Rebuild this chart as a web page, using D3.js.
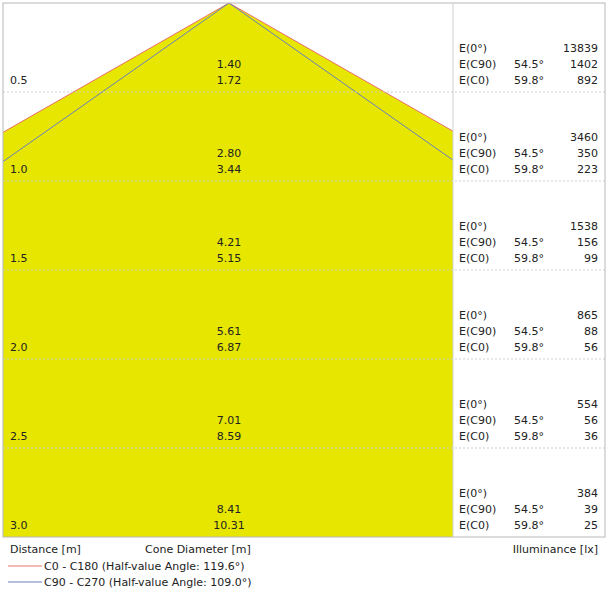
<!DOCTYPE html>
<html><head><meta charset="utf-8">
<script src="https://cdn.jsdelivr.net/npm/d3@7"></script>
<style>body{margin:0;background:#fff}</style>
</head><body><div id="chart"></div>
<script>
// Chart data
const distances = [0.5, 1.0, 1.5, 2.0, 2.5, 3.0];
const diamC90 = [1.40, 2.80, 4.21, 5.61, 7.01, 8.41];
const diamC0 = [1.72, 3.44, 5.15, 6.87, 8.59, 10.31];
const illumCenter = [13839, 3460, 1538, 865, 554, 384];
const illumC90 = [1402, 350, 156, 88, 56, 39];
const illumC0 = [892, 223, 99, 56, 36, 25];
const angleC90 = "54.5°", angleC0 = "59.8°";
const legendLabels = ["C0 - C180 (Half-value Angle: 119.6°)", "C90 - C270 (Half-value Angle: 109.0°)"];

const W = 608, H = 608;
const plotLeft = 3, plotRight = 605, plotTop = 3, plotBottom = 537, split = 453, cx = 229;
const font = "DejaVu Sans";

const svg = d3.select("#chart").append("svg").attr("width", W).attr("height", H)
    .style("font-family", font).style("font-size", "11px").attr("fill", "#222");

// Scales
const y = d3.scaleLinear().domain([0, 3]).range([plotTop, plotBottom]);
const x = d3.scaleLinear().domain([-1, 1]).range([cx - 181, cx + 181]); // metres from axis

svg.append("clipPath").attr("id", "clip").append("rect")
    .attr("x", plotLeft).attr("y", plotTop).attr("width", split - plotLeft).attr("height", plotBottom - plotTop);

const g = svg.append("g").attr("clip-path", "url(#clip)");

// Cone edges (half diameter at the last distance)
const cone = diam => [[-diam[5] / 2, 3], [0, 0], [diam[5] / 2, 3]];
const line = d3.line().x(d => x(d[0])).y(d => y(d[1]));

g.append("path").attr("d", line(cone(diamC0)) + "Z").attr("fill", "#e6e600");
g.append("path").attr("d", line(cone(diamC0))).attr("fill", "none").attr("stroke", "#e8706a").attr("stroke-width", 1);
g.append("path").attr("d", line(cone(diamC90))).attr("fill", "none").attr("stroke", "#6a7fc0").attr("stroke-width", 1);

// Row separators
svg.selectAll(".sep").data(distances.slice(0, -1)).enter().append("line")
    .attr("x1", plotLeft).attr("x2", plotRight).attr("y1", d => y(d)).attr("y2", d => y(d))
    .attr("stroke", "#cfcfcf").attr("stroke-dasharray", "2,2");

// Frame
svg.append("rect").attr("x", plotLeft).attr("y", plotTop).attr("width", plotRight - plotLeft).attr("height", plotBottom - plotTop)
    .attr("fill", "none").attr("stroke", "#b8b8b8");
svg.append("line").attr("x1", split).attr("x2", split).attr("y1", plotTop).attr("y2", plotBottom).attr("stroke", "#d0d0d0");

// Row texts
distances.forEach((d, i) => {
    const yb = y(d);
    svg.append("text").attr("x", 10).attr("y", yb - 8).text(d.toFixed(1));
    svg.append("text").attr("x", cx).attr("y", yb - 24).attr("text-anchor", "middle").text(diamC90[i].toFixed(2));
    svg.append("text").attr("x", cx).attr("y", yb - 8).attr("text-anchor", "middle").text(diamC0[i].toFixed(2));
    const rows = [["E(0°)", "", illumCenter[i]], ["E(C90)", angleC90, illumC90[i]], ["E(C0)", angleC0, illumC0[i]]];
    rows.forEach((r, j) => {
        const ty = yb - 40 + j * 16;
        svg.append("text").attr("x", 459).attr("y", ty).text(r[0]);
        svg.append("text").attr("x", 514).attr("y", ty).text(r[1]);
        svg.append("text").attr("x", 598).attr("y", ty).attr("text-anchor", "end").text(r[2]);
    });
});

// Footer
svg.append("text").attr("x", 10).attr("y", 553).text("Distance [m]");
svg.append("text").attr("x", 145).attr("y", 553).text("Cone Diameter [m]");
svg.append("text").attr("x", 598).attr("y", 553).attr("text-anchor", "end").text("Illuminance [lx]");
const legColors = ["#e8706a", "#6a7fc0"];
legendLabels.forEach((t, i) => {
    const ly = 566 + i * 16;
    svg.append("line").attr("x1", 8).attr("x2", 42).attr("y1", ly).attr("y2", ly).attr("stroke", legColors[i]);
    svg.append("text").attr("x", 44).attr("y", ly + 4).text(t);
});
</script></body></html>
